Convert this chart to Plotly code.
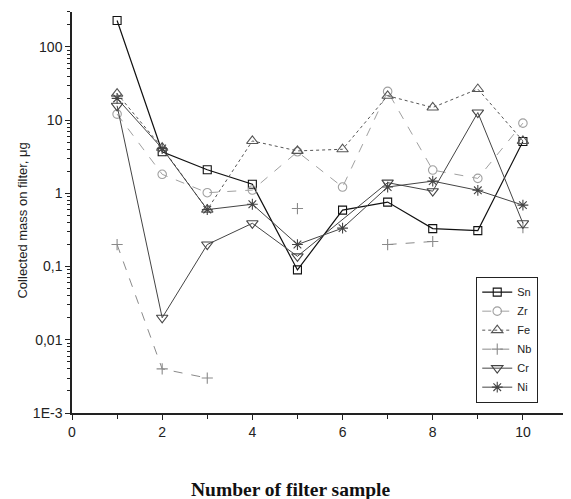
import plotly.graph_objects as go

samples = [1, 2, 3, 4, 5, 6, 7, 8, 9, 10]

sn = [230, 3.7, 2.1, 1.33, 0.09, 0.59, 0.76, 0.33, 0.31, 5.1]
zr = [12.1, 1.82, 1.02, 1.11, 3.7, 1.22, 24.7, 2.08, 1.6, 9.1]
fe = [23, 4.2, 0.6, 5.2, 3.8, 4.0, 21.5, 14.9, 26.6, 5.2]
nb = [0.2, 0.004, 0.003, None, 0.62, None, 0.2, 0.22, None, 0.34]
cr_x = [1, 2, 3, 4, 5, 7, 8, 9, 10]
cr = [15.7, 0.02, 0.2, 0.39, 0.138, 1.4, 1.07, 12.7, 0.39]
ni = [19.8, 4.1, 0.6, 0.71, 0.2, 0.335, 1.22, 1.47, 1.1, 0.69]

y_tickvals = [0.001, 0.01, 0.1, 1, 10, 100]
y_ticktext = ["1E-3", "0,01", "0,1", "1", "10", "100"]
x_tickvals = [0, 2, 4, 6, 8, 10]
x_minor = [1, 3, 5, 7, 9]

y_minor = []
for dec in [0.001, 0.01, 0.1, 1, 10, 100]:
    for m in range(2, 10):
        v = m * dec
        if v <= 300:
            y_minor.append(v)

fig = go.Figure()

def add(name, x, y, color, dash, symbol, size, lw=1):
    fig.add_trace(go.Scatter(
        x=x, y=y, name=name, mode="lines+markers",
        line=dict(color=color, width=lw, dash=dash),
        marker=dict(symbol=symbol, size=size, color=color,
                    line=dict(color=color, width=1.1)),
        connectgaps=False,
    ))

add("Sn", samples, sn, "#111111", "solid", "square-open", 8, 1.2)
add("Zr", samples, zr, "#a0a0a0", "dash", "circle-open", 8.5)
add("Fe", samples, fe, "#555555", "dot", "triangle-up-open", 10)
add("Nb", samples, nb, "#8a8a8a", "dash", "cross-thin-open", 8)
add("Cr", cr_x, cr, "#444444", "solid", "triangle-down-open", 10)
add("Ni", samples, ni, "#444444", "solid", "asterisk-open", 9)

axis_font = dict(family="Liberation Sans, Arial, sans-serif", size=14, color="#222222")

fig.update_layout(
    width=563, height=491,
    margin=dict(l=64, r=3, t=4, b=86),
    paper_bgcolor="white", plot_bgcolor="white",
    font=axis_font,
    showlegend=True,
    legend=dict(
        x=0.815, y=0.34, xanchor="left", yanchor="top",
        bordercolor="#222222", borderwidth=1, bgcolor="white",
        font=dict(family="Liberation Sans, Arial, sans-serif", size=11, color="#222222"),
        tracegroupgap=0, itemwidth=30,
    ),
    xaxis=dict(
        range=[0, 11], showgrid=False, zeroline=False,
        showline=True, linecolor="#222222", linewidth=1.5,
        tickmode="array", tickvals=x_tickvals,
        ticks="outside", ticklen=5, tickcolor="#222222",
        minor=dict(tickmode="array", tickvals=x_minor, ticks="outside", ticklen=4, tickcolor="#222222", showgrid=False),
        tickfont=axis_font,
    ),
    yaxis=dict(
        type="log", range=[-3, 2.477], showgrid=False, zeroline=False,
        showline=True, linecolor="#222222", linewidth=1.5,
        tickmode="array", tickvals=y_tickvals, ticktext=y_ticktext,
        ticks="outside", ticklen=5, tickcolor="#222222",
        minor=dict(tickmode="array", tickvals=y_minor, ticks="outside", ticklen=3, tickcolor="#222222", showgrid=False),
        tickfont=axis_font,
    ),
    annotations=[
        dict(
            text="<b>Number of filter sample</b>", xref="paper", yref="paper",
            x=0.44, y=-0.192, xanchor="center", yanchor="middle", showarrow=False,
            font=dict(family="Liberation Serif, Times New Roman, serif", size=19.5, color="#111111"),
        ),
        dict(
            text="Collected mass on filter, μg", xref="paper", yref="paper",
            x=-0.1, y=0.481, xanchor="center", yanchor="middle", showarrow=False,
            textangle=-90,
            font=dict(family="Liberation Sans, Arial, sans-serif", size=13, color="#222222"),
        ),
    ],
)

fig.write_html("out.html")
